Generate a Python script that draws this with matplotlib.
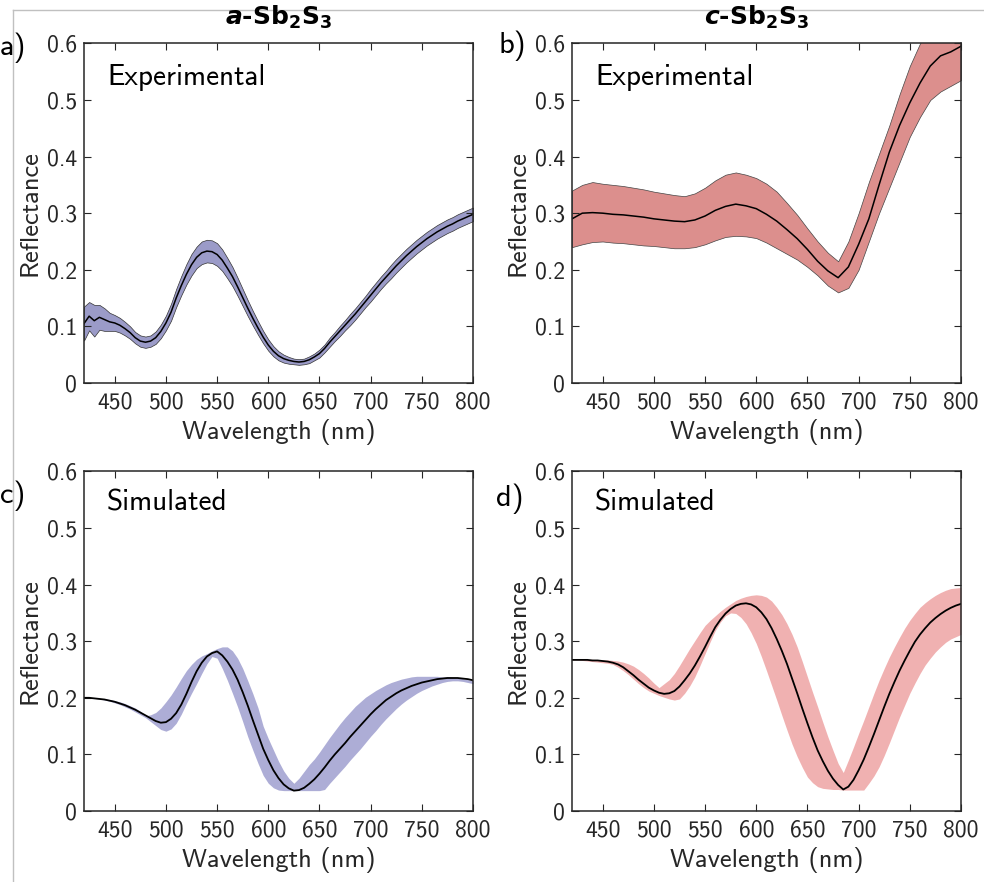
import matplotlib
matplotlib.use("Agg")
import matplotlib.pyplot as plt
from matplotlib.lines import Line2D
from matplotlib.ticker import FuncFormatter

plt.rcParams['font.family'] = ['cmss10', 'DejaVu Sans']
plt.rcParams['mathtext.fontset'] = 'dejavusans'

# wavelength grids (nm)
wl = list(range(420, 801, 10))       # panel b
wl_fine = list(range(420, 801, 5))   # panels a, c, d

# a) amorphous, experimental: mean and spread
exp_a_mean = [0.105, 0.118, 0.110, 0.116, 0.112, 0.108, 0.106, 0.102, 0.096, 0.089,
              0.080, 0.074, 0.072, 0.074, 0.080, 0.091, 0.106, 0.125, 0.150, 0.172,
              0.192, 0.209, 0.222, 0.230, 0.233, 0.232, 0.227, 0.217, 0.203, 0.188,
              0.170, 0.151, 0.132, 0.114, 0.097, 0.081, 0.067, 0.056, 0.048, 0.043,
              0.040, 0.038, 0.037, 0.038, 0.041, 0.046, 0.052, 0.061, 0.072, 0.082,
              0.092, 0.102, 0.112, 0.122, 0.133, 0.144, 0.155, 0.166, 0.177, 0.187,
              0.197, 0.207, 0.216, 0.225, 0.233, 0.241, 0.248, 0.255, 0.261, 0.267,
              0.272, 0.277, 0.281, 0.286, 0.290, 0.294, 0.298]
exp_a_spread = [0.030, 0.025, 0.028, 0.022, 0.020, 0.016, 0.014, 0.013, 0.012, 0.011,
                0.010, 0.010, 0.010, 0.010, 0.011, 0.012, 0.013, 0.015, 0.016, 0.017,
                0.018, 0.019, 0.019, 0.020, 0.020, 0.020, 0.020, 0.019, 0.018, 0.017,
                0.016, 0.015, 0.014, 0.013, 0.012, 0.011, 0.010, 0.009, 0.008, 0.007,
                0.006, 0.005, 0.005, 0.005, 0.006, 0.006, 0.007, 0.007, 0.008, 0.008,
                0.009, 0.009, 0.010, 0.010, 0.010, 0.010, 0.011, 0.011, 0.011, 0.011,
                0.012, 0.012, 0.012, 0.012, 0.012, 0.012, 0.012, 0.012, 0.012, 0.012,
                0.012, 0.012, 0.012, 0.012, 0.012, 0.012, 0.012]

# b) crystalline, experimental: mean, upper and lower edge of the band
exp_c_mean = [0.290, 0.300, 0.301, 0.300, 0.298, 0.297, 0.295, 0.293, 0.290, 0.288,
              0.286, 0.285, 0.288, 0.295, 0.305, 0.312, 0.316, 0.313, 0.308, 0.298,
              0.286, 0.271, 0.255, 0.236, 0.215, 0.198, 0.186, 0.205, 0.245, 0.290,
              0.350, 0.408, 0.455, 0.495, 0.530, 0.560, 0.578, 0.585, 0.595]
exp_c_upper = [0.340, 0.350, 0.355, 0.352, 0.350, 0.348, 0.345, 0.342, 0.338, 0.335,
               0.332, 0.330, 0.335, 0.345, 0.358, 0.368, 0.372, 0.368, 0.362, 0.352,
               0.338, 0.318, 0.297, 0.273, 0.250, 0.230, 0.215, 0.250, 0.300, 0.355,
               0.405, 0.455, 0.510, 0.560, 0.600, 0.630, 0.650, 0.660, 0.670]
exp_c_lower = [0.240, 0.245, 0.249, 0.250, 0.248, 0.247, 0.245, 0.243, 0.242, 0.240,
               0.238, 0.238, 0.240, 0.245, 0.252, 0.258, 0.260, 0.259, 0.256, 0.248,
               0.238, 0.228, 0.218, 0.205, 0.190, 0.172, 0.160, 0.168, 0.200, 0.250,
               0.300, 0.345, 0.390, 0.435, 0.470, 0.500, 0.515, 0.525, 0.535]

# c) amorphous, simulated
sim_a_mean = [0.200, 0.200, 0.199, 0.198, 0.197, 0.195, 0.193, 0.190, 0.187, 0.183,
              0.179, 0.174, 0.169, 0.164, 0.159, 0.156, 0.157, 0.163, 0.173, 0.188,
              0.207, 0.228, 0.247, 0.262, 0.273, 0.279, 0.282, 0.275, 0.264, 0.250,
              0.232, 0.210, 0.186, 0.160, 0.135, 0.110, 0.090, 0.072, 0.058, 0.047,
              0.040, 0.036, 0.037, 0.041, 0.048, 0.056, 0.066, 0.077, 0.089, 0.100,
              0.110, 0.120, 0.131, 0.141, 0.151, 0.161, 0.171, 0.180, 0.188, 0.196,
              0.202, 0.208, 0.213, 0.217, 0.221, 0.224, 0.227, 0.229, 0.231, 0.233,
              0.234, 0.235, 0.235, 0.235, 0.234, 0.233, 0.231]
sim_a_upper = [0.200, 0.200, 0.200, 0.199, 0.198, 0.197, 0.195, 0.193, 0.190, 0.186,
               0.182, 0.176, 0.168, 0.170, 0.174, 0.182, 0.193, 0.205, 0.219, 0.234,
               0.248, 0.259, 0.268, 0.274, 0.278, 0.283, 0.287, 0.290, 0.290, 0.283,
               0.270, 0.252, 0.230, 0.207, 0.182, 0.150, 0.128, 0.108, 0.088, 0.071,
               0.058, 0.049, 0.058, 0.070, 0.082, 0.092, 0.104, 0.117, 0.130, 0.142,
               0.154, 0.165, 0.175, 0.185, 0.193, 0.201, 0.207, 0.213, 0.218, 0.223,
               0.227, 0.230, 0.233, 0.235, 0.237, 0.238, 0.238, 0.238, 0.238, 0.238,
               0.237, 0.237, 0.236, 0.235, 0.234, 0.232, 0.231]
sim_a_lower = [0.200, 0.199, 0.199, 0.198, 0.196, 0.194, 0.191, 0.188, 0.184, 0.180,
               0.175, 0.170, 0.165, 0.158, 0.151, 0.144, 0.141, 0.145, 0.155, 0.171,
               0.190, 0.208, 0.225, 0.243, 0.260, 0.273, 0.270, 0.252, 0.231, 0.208,
               0.184, 0.158, 0.131, 0.107, 0.084, 0.063, 0.049, 0.041, 0.037, 0.036,
               0.036, 0.036, 0.036, 0.036, 0.036, 0.036, 0.036, 0.038, 0.049, 0.059,
               0.069, 0.079, 0.090, 0.100, 0.110, 0.121, 0.132, 0.142, 0.153, 0.163,
               0.172, 0.181, 0.189, 0.196, 0.202, 0.208, 0.213, 0.217, 0.221, 0.224,
               0.227, 0.229, 0.230, 0.230, 0.229, 0.227, 0.225]

# d) crystalline, simulated
sim_c_mean = [0.267, 0.267, 0.267, 0.267, 0.266, 0.266, 0.265, 0.264, 0.262, 0.259,
              0.254, 0.247, 0.240, 0.232, 0.225, 0.218, 0.213, 0.209, 0.207, 0.208,
              0.212, 0.220, 0.231, 0.243, 0.257, 0.273, 0.290, 0.308, 0.325, 0.338,
              0.349, 0.357, 0.363, 0.366, 0.367, 0.365, 0.360, 0.351, 0.339, 0.323,
              0.304, 0.283, 0.260, 0.234, 0.208, 0.181, 0.155, 0.130, 0.107, 0.088,
              0.071, 0.057, 0.046, 0.038, 0.043, 0.055, 0.072, 0.091, 0.113, 0.136,
              0.160, 0.184, 0.207, 0.228, 0.248, 0.266, 0.283, 0.299, 0.312, 0.323,
              0.333, 0.341, 0.348, 0.354, 0.359, 0.363, 0.366]
sim_c_upper = [0.268, 0.268, 0.268, 0.268, 0.268, 0.267, 0.267, 0.267, 0.266, 0.265,
               0.263, 0.260, 0.256, 0.250, 0.243, 0.235, 0.226, 0.218, 0.225, 0.232,
               0.243, 0.257, 0.272, 0.287, 0.301, 0.315, 0.328, 0.337, 0.345, 0.353,
               0.360, 0.366, 0.372, 0.376, 0.379, 0.381, 0.382, 0.381, 0.378, 0.371,
               0.360, 0.347, 0.331, 0.312, 0.290, 0.264, 0.237, 0.210, 0.184, 0.157,
               0.131, 0.107, 0.084, 0.068, 0.090, 0.113, 0.137, 0.160, 0.184, 0.208,
               0.231, 0.252, 0.272, 0.290, 0.307, 0.323, 0.337, 0.349, 0.360, 0.368,
               0.375, 0.381, 0.386, 0.390, 0.393, 0.394, 0.395]
sim_c_lower = [0.267, 0.267, 0.266, 0.265, 0.264, 0.263, 0.262, 0.261, 0.259, 0.254,
               0.248, 0.241, 0.233, 0.225, 0.218, 0.212, 0.208, 0.204, 0.201, 0.198,
               0.196, 0.198, 0.208, 0.221, 0.237, 0.257, 0.278, 0.299, 0.319, 0.334,
               0.345, 0.350, 0.349, 0.342, 0.331, 0.315, 0.296, 0.273, 0.248, 0.222,
               0.196, 0.169, 0.143, 0.118, 0.096, 0.077, 0.060, 0.050, 0.043, 0.040,
               0.039, 0.038, 0.038, 0.037, 0.037, 0.037, 0.037, 0.037, 0.049, 0.062,
               0.078, 0.098, 0.120, 0.143, 0.166, 0.187, 0.208, 0.226, 0.243, 0.258,
               0.270, 0.281, 0.290, 0.298, 0.304, 0.308, 0.312]

y_ticks = [0, 0.1, 0.2, 0.3, 0.4, 0.5, 0.6]
x_ticks = [450, 500, 550, 600, 650, 700, 750, 800]
dark = '#262626'

fig = plt.figure(figsize=(9.84, 8.82), dpi=100)

w, h = 0.3953, 0.3850
ax_a = fig.add_axes([0.0854, 0.5658, w, h])
ax_b = fig.add_axes([0.5813, 0.5658, w, h])
ax_c = fig.add_axes([0.0854, 0.0805, w, h])
ax_d = fig.add_axes([0.5813, 0.0805, w, h])


def style(ax):
    ax.set_xlim(420, 800)
    ax.set_ylim(0, 0.6)
    ax.set_xticks(x_ticks)
    ax.set_yticks(y_ticks)
    ax.yaxis.set_major_formatter(FuncFormatter(lambda v, p: f'{v:g}'))
    ax.tick_params(direction='in', top=True, right=True, length=5, width=0.8,
                   labelsize=17, colors=dark)
    ax.tick_params(axis='x', pad=6)
    ax.tick_params(axis='y', pad=5)
    for s in ax.spines.values():
        s.set_color(dark)
        s.set_linewidth(1.1)
    ax.set_xlabel('Wavelength (nm)', fontsize=19, color=dark, labelpad=4)
    ax.set_ylabel('Reflectance', fontsize=19, color=dark, labelpad=4)


# experimental panels
lo_a = [m - s for m, s in zip(exp_a_mean, exp_a_spread)]
hi_a = [m + s for m, s in zip(exp_a_mean, exp_a_spread)]
ax_a.fill_between(wl_fine, lo_a, hi_a, color='#9b9bc8', edgecolor='#333333', linewidth=0.5)
ax_a.plot(wl_fine, exp_a_mean, color='black', lw=1.1)

ax_b.fill_between(wl, exp_c_lower, exp_c_upper, color='#dc8f8d', edgecolor='#444444',
                  linewidth=0.5)
ax_b.plot(wl, exp_c_mean, color='black', lw=1.1)

# simulated panels
ax_c.fill_between(wl_fine, sim_a_lower, sim_a_upper, color=(0.2, 0.2, 0.6), alpha=0.4, lw=0)
ax_c.plot(wl_fine, sim_a_mean, color='black', lw=1.3)

ax_d.fill_between(wl_fine, sim_c_lower, sim_c_upper, color=(0.85, 0.2, 0.2), alpha=0.38, lw=0)
ax_d.plot(wl_fine, sim_c_mean, color='black', lw=1.3)

for ax in (ax_a, ax_b, ax_c, ax_d):
    style(ax)

for ax in (ax_a, ax_b):
    ax.text(0.059, 0.90, 'Experimental', transform=ax.transAxes, fontsize=21,
            va='center', ha='left', color='black')
for ax in (ax_c, ax_d):
    ax.text(0.059, 0.906, 'Simulated', transform=ax.transAxes, fontsize=21,
            va='center', ha='left', color='black')

# column titles
fig.text(0.2830, 0.980, r'$\mathbfit{a}$-Sb$_\mathbf{2}$S$_\mathbf{3}$', family='DejaVu Sans',
         fontweight='bold', fontsize=18, ha='center', va='center')
fig.text(0.7690, 0.980, r'$\mathbfit{c}$-Sb$_\mathbf{2}$S$_\mathbf{3}$', family='DejaVu Sans',
         fontweight='bold', fontsize=18, ha='center', va='center')

# panel letters
for lbl, x, y in [('a)', 0.000, 0.9456), ('b)', 0.507, 0.9480),
                  ('c)', 0.000, 0.4380), ('d)', 0.504, 0.4340)]:
    fig.text(x, y, lbl, fontsize=22, ha='left', va='center')

# thin frame left over from the original page
fig.add_artist(Line2D([0.0132, 1.0], [0.9887, 0.9887], color='#c0c0c0', lw=1,
                      transform=fig.transFigure))
fig.add_artist(Line2D([0.0132, 0.0132], [0.0, 0.9887], color='#c0c0c0', lw=1,
                      transform=fig.transFigure))

fig.savefig('out.png', dpi=100)
